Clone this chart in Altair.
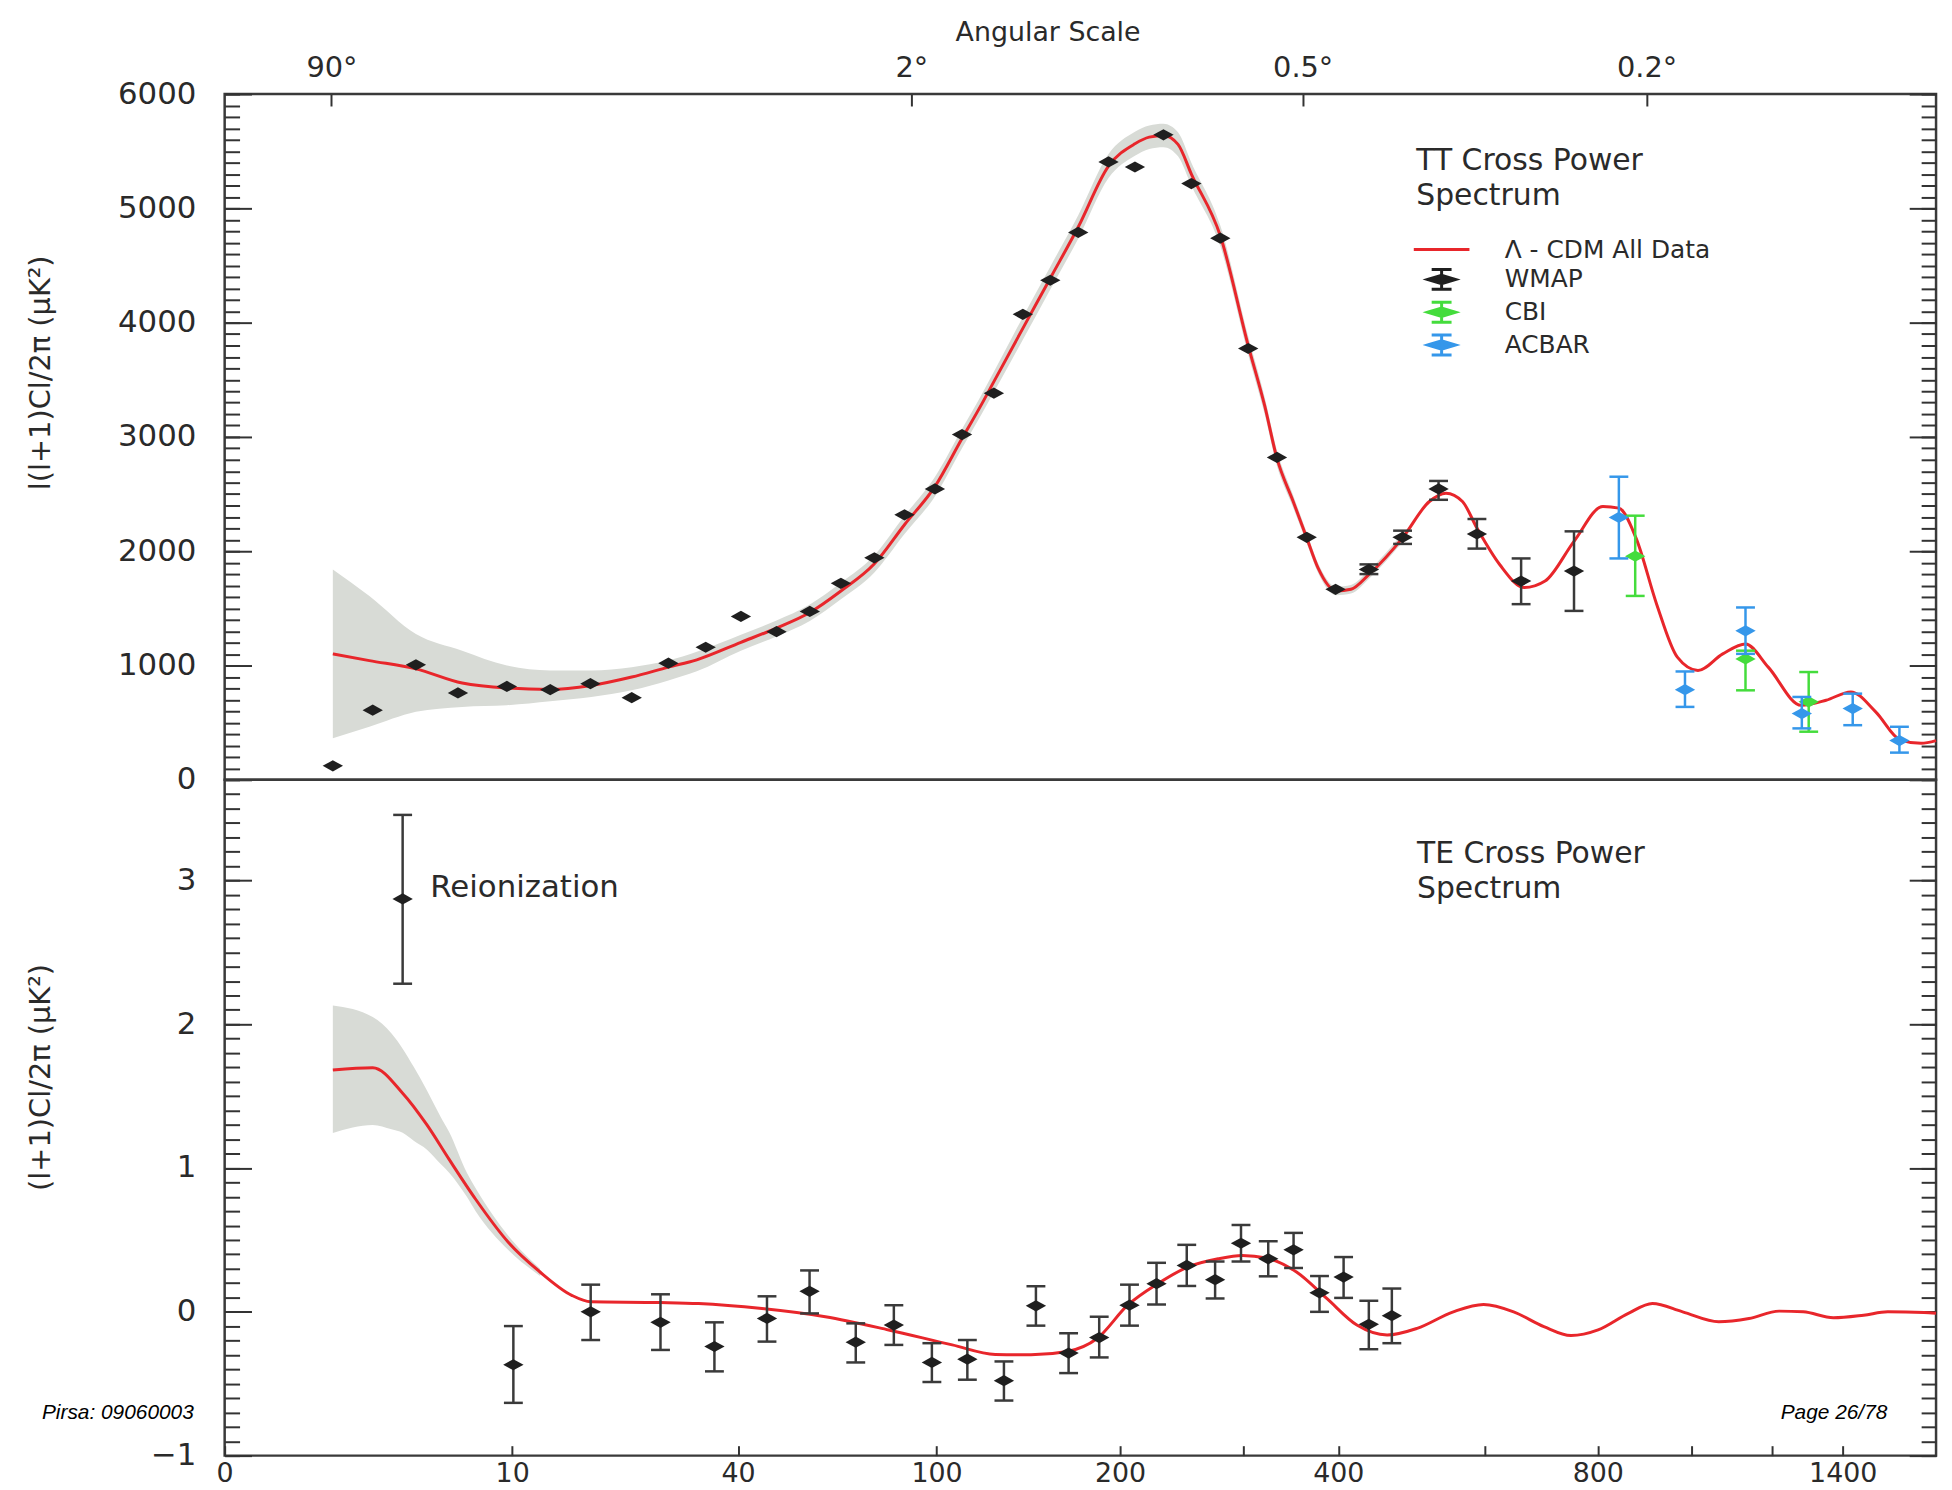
import altair as alt
import pandas as pd

# ---------------- values ----------------
# TT panel: WMAP binned points (multipole l  ->  l(l+1)Cl/2pi  [uK^2])
tt_ell = [2.03, 3.07, 4.60, 6.58, 9.62, 13.1, 17.1, 22.1, 27.4, 33.7, 40.6, 48.6, 57.1,
          66.0, 76.7, 87.4, 99.3, 110.9, 125.8, 140.6, 155.8, 172.5, 192.1, 210.5, 231.8,
          254.2, 279.1, 304.8, 333.1, 364.4, 396.8, 436.9, 480.4, 530.4, 587.9, 659.8, 754.3]
tt_val = [122, 609, 1006, 760, 817, 789, 841, 719, 1021, 1160, 1430, 1296, 1473,
          1719, 1942, 2319, 2545, 3021, 3383, 4073, 4371, 4789, 5406, 5362, 5643,
          5217, 4739, 3774, 2821, 2122, 1667, 1841, 2122, 2545, 2151, 1739, 1826]
# WMAP error bars (visible ones only)
tt_err_ell = [436.9, 480.4, 530.4, 587.9, 659.8, 754.3]
tt_err_lo = [1800, 2064, 2450, 2023, 1537, 1478]
tt_err_hi = [1885, 2180, 2615, 2282, 1937, 2174]
# CBI
cbi_ell = [875.9, 1131.5, 1301.1]
cbi_val = [1957, 1058, 682]
cbi_lo = [1609, 783, 421]
cbi_hi = [2311, 1130, 943]
# ACBAR
acbar_ell = [842.1, 985.2, 1131.5, 1281.8, 1430.0, 1577.0]
acbar_val = [2296, 789, 1304, 580, 623, 343]
acbar_lo = [1937, 638, 1102, 450, 478, 238]
acbar_hi = [2652, 948, 1508, 725, 754, 464]
# Lambda-CDM model curve (TT)
tt_model_ell = [2.03, 2.97, 4.60, 6.81, 9.62, 13.1, 17.2, 22.1, 27.4, 32.1, 40.6, 48.6, 57.1,
                66.0, 76.7, 87.4, 99.3, 110.9, 119.6, 125.8, 140.6, 155.8, 172.5, 192.1, 210.5,
                221.0, 231.8, 243.3, 254.2, 279.1, 304.8, 320.7, 333.1, 349.7, 364.4, 376.7,
                397.8, 414.9, 437.0, 480.4, 517.3, 541.2, 565.7, 587.9, 624.1, 665.4, 701.4,
                754.3, 810.0, 842.1, 877.5, 921.8, 967.8, 1015.4, 1074.7, 1131.5, 1190.5,
                1280.2, 1350.9, 1424.3, 1501.0, 1580.3, 1649.0, 1700.0]
tt_model_val = [1102, 1043, 971, 847, 803, 791, 826, 899, 986, 1050, 1203, 1328, 1464,
                1652, 1890, 2232, 2565, 2986, 3276, 3484, 3950, 4389, 4837, 5370, 5565,
                5623, 5638, 5560, 5300, 4760, 3800, 3276, 2812, 2440, 2117, 1856,
                1652, 1667, 1797, 2117, 2435, 2508, 2435, 2203, 1884, 1682, 1739,
                2087, 2391, 2377, 2117, 1537, 1073, 957, 1102, 1189, 986,
                652, 696, 769, 595, 348, 319, 343]
# grey cosmic-variance band (TT)
tt_band_ell = [2.03, 2.97, 4.60, 6.81, 9.62, 13.1, 17.2, 22.1, 27.4, 32.1, 40.6, 48.6, 57.1,
               66.0, 76.7, 87.4, 99.3, 110.9, 119.6, 125.8, 140.6, 155.8, 172.5, 192.1, 210.5,
               221.0, 231.8, 243.3, 254.2, 279.1, 304.8, 320.7, 333.1, 349.7, 364.4, 376.7,
               397.8, 414.9, 437.0, 480.4]
tt_band_lo = [363, 464, 595, 638, 652, 687, 725, 783, 870, 950, 1130, 1255, 1390,
              1580, 1815, 2150, 2480, 2900, 3190, 3390, 3850, 4290, 4735, 5265, 5460,
              5520, 5535, 5455, 5200, 4670, 3720, 3200, 2745, 2385, 2070, 1815,
              1615, 1630, 1760, 2080]
tt_band_hi = [1841, 1609, 1276, 1130, 1000, 957, 957, 986, 1043, 1120, 1270, 1395, 1535,
              1725, 1965, 2310, 2650, 3070, 3360, 3570, 4050, 4490, 4940, 5475, 5670,
              5725, 5740, 5665, 5400, 4850, 3880, 3350, 2880, 2495, 2165, 1900,
              1690, 1705, 1835, 2155]

# TE panel: WMAP points with error bars
te_ell = [10.09, 17.13, 26.18, 35.32, 46.35, 57.03, 70.6, 83.5, 98.07, 113.3, 130.8, 147.7,
          166.6, 185.9, 206.6, 226.5, 250.4, 274.5, 298.0, 324.3, 350.3, 378.5, 406.2, 436.8, 466.2]
te_val = [-0.368, 0.0, -0.073, -0.241, -0.046, 0.143, -0.211, -0.092, -0.352, -0.329, -0.479, 0.042,
          -0.287, -0.179, 0.046, 0.196, 0.323, 0.224, 0.477, 0.369, 0.431, 0.132, 0.242, -0.087, -0.027]
te_lo = [-0.633, -0.196, -0.265, -0.414, -0.207, -0.011, -0.352, -0.230, -0.488, -0.472, -0.617, -0.096,
         -0.426, -0.317, -0.096, 0.051, 0.180, 0.093, 0.350, 0.247, 0.305, 0.0, 0.097, -0.260, -0.218]
te_hi = [-0.099, 0.189, 0.122, -0.073, 0.108, 0.288, -0.080, 0.046, -0.218, -0.196, -0.345, 0.178,
         -0.149, -0.034, 0.189, 0.341, 0.466, 0.350, 0.604, 0.491, 0.549, 0.249, 0.381, 0.077, 0.162]
# reionization point
reion_ell = [4.08]
reion_val = [2.872]
reion_lo = [2.282]
reion_hi = [3.456]
# model curve (TE)
te_model_ell = [2.03, 3.07, 4.08, 5.07, 6.12, 7.58, 9.72, 12.21, 15.14, 17.13, 26.18, 32.42, 45.19,
                61.42, 81.67, 106.6, 126.5, 145.0, 165.8, 184.7, 205.3, 227.5, 251.4, 277.2, 299.2,
                322.5, 353.4, 386.7, 422.1, 460.0, 500.2, 552.0, 598.3, 647.2, 699.3, 748.7, 800.6,
                861.6, 912.6, 979.8, 1065.1, 1140.5, 1219.6, 1285.9, 1372.3, 1463.3, 1539.3, 1658.5, 1700.0]
te_model_val = [1.682, 1.698, 1.521, 1.30, 1.06, 0.783, 0.484, 0.277, 0.115, 0.07, 0.065, 0.058, 0.023,
                -0.034, -0.126, -0.230, -0.296, -0.299, -0.276, -0.184, 0.046, 0.196, 0.312, 0.369, 0.392,
                0.374, 0.277, 0.093, -0.092, -0.161, -0.115, 0.0, 0.051, 0.0, -0.103, -0.165, -0.126,
                -0.011, 0.058, 0.0, -0.069, -0.046, 0.005, 0.0, -0.041, -0.023, 0.0, -0.004, -0.01]
te_band_ell = [2.03, 3.07, 3.68, 4.08, 4.51, 5.07, 5.69, 6.12, 7.07, 7.58, 9.72, 12.21]
te_band_lo = [1.244, 1.30, 1.27, 1.245, 1.19, 1.128, 1.03, 0.968, 0.80, 0.70, 0.43, 0.25]
te_band_hi = [2.13, 2.05, 1.935, 1.83, 1.704, 1.54, 1.359, 1.25, 0.968, 0.86, 0.53, 0.30]

# labels / annotations (positions in data units: multipole l, panel value)
legend_labels = ["Λ - CDM All Data", "WMAP", "CBI", "ACBAR"]
tt_note = ["TT Cross Power\nSpectrum"]
tt_note_ell = [499]
tt_note_val = [5337]
te_note = ["TE Cross Power\nSpectrum"]
te_note_ell = [500]
te_note_val = [3.12]
reion_note = ["Reionization"]
reion_note_ell = [5.22]
reion_note_val = [2.885]
slide_left = ["Pirsa: 09060003"]
slide_left_ell = [0.0036]
slide_right = ["Page 26/78"]
slide_right_ell = [1538]
slide_note_val = [-0.745]

angular_tick_ell = [2, 90, 360, 900]
ell_ticks = [0.5, 10, 40, 100, 200, 300, 400, 600, 800, 1000, 1200, 1400]
tt_major = list(range(0, 6001, 1000))
tt_minor = list(range(0, 6001, 100))
te_major = [-1, 0, 1, 2, 3]
te_minor = [round(-1 + 0.1 * i, 1) for i in range(47)]

# ---------------- styling ----------------
FONT = "DejaVu Sans"
RED = "#e8262b"
BAND = "#d8dbd6"
INK = "#1f1f1f"
ERR = "#3a3a3a"
GREEN = "#44dc3c"
BLUE = "#3597ea"
TXT = "#2a2a2a"
TICK = "#333333"
DIAMOND = "M-1,0L0,-0.55L1,0L0,0.55Z"
LEG_LINE = "M-2.8,0L2.8,0"
LEG_ERR = "M-1,-1L1,-1M0,-1L0,1M-1,1L1,1M-1.4,0L0,-0.42L1.4,0L0,0.42Z"

W = 1722
H_TT = 690
H_TE = 680

xs = alt.Scale(type="pow", exponent=0.25, domain=[0.5, 1700], nice=False, zero=False)
ys_tt = alt.Scale(domain=[0, 6000], nice=False, zero=False)
ys_te = alt.Scale(domain=[-1, 3.7], nice=False, zero=False)


def tick_axis(orient, values, size):
    return alt.Axis(orient=orient, values=values, tickSize=size, offset=-size, domain=False,
                    grid=False, labels=False, ticks=True, tickColor=TICK, tickWidth=2, title=None)


def label_axis(values, title, title_y, min_extent):
    return alt.Axis(orient="left", values=values, format="d", tickSize=27, offset=-27, domain=False,
                    grid=False, labels=True, labelPadding=29, labelFontSize=31, labelColor=TXT,
                    labelFlush=False, labelOverlap=False, tickColor=TICK, tickWidth=2,
                    title=title, titleFontSize=29, titleFontWeight="normal", titleColor=TXT,
                    titleX=-212, titleY=title_y, titleBaseline="middle", titleAngle=-90,
                    minExtent=min_extent)


top_axis = alt.Axis(orient="top", values=angular_tick_ell, labelExpr="(180/datum.value) + '°'",
                    tickSize=12, offset=-12, labelPadding=12, domain=False, grid=False,
                    labelFontSize=29, labelColor=TXT, labelFlush=False, labelOverlap=False,
                    tickColor=TICK, tickWidth=2, title="Angular Scale", titleFontSize=27,
                    titleFontWeight="normal", titleColor=TXT, titleX=828, titleY=-74,
                    titleBaseline="middle")

bottom_axis = alt.Axis(orient="bottom", values=ell_ticks,
                       labelExpr="datum.value < 1 ? '0' : (datum.value == 300 || datum.value == 600 || "
                                 "datum.value == 1000 || datum.value == 1200) ? '' : format(datum.value, 'd')",
                       tickSize=10, offset=-10, labelPadding=5, domain=False, grid=False,
                       labelFontSize=27, labelColor=TXT, labelFlush=False, labelOverlap=False,
                       tickColor=TICK, tickWidth=2, title=None)


def X(field="ell", axis=None):
    return alt.X(f"{field}:Q", scale=xs, axis=axis)


# ---------------- TT panel ----------------
tt_band_df = pd.DataFrame({"ell": tt_band_ell, "lo": tt_band_lo, "hi": tt_band_hi})
tt_model_df = pd.DataFrame({"ell": tt_model_ell, "val": tt_model_val})
tt_df = pd.DataFrame({"ell": tt_ell, "val": tt_val})
tt_err_df = pd.DataFrame({"ell": tt_err_ell, "lo": tt_err_lo, "hi": tt_err_hi})
cbi_df = pd.DataFrame({"ell": cbi_ell, "val": cbi_val, "lo": cbi_lo, "hi": cbi_hi})
acbar_df = pd.DataFrame({"ell": acbar_ell, "val": acbar_val, "lo": acbar_lo, "hi": acbar_hi})


def errbars(df, yscale, color, axis_rule=None, axis_cap=None):
    rule = alt.Chart(df).mark_rule(color=color, strokeWidth=2.5, opacity=1).encode(
        x=X(), y=alt.Y("lo:Q", scale=yscale, axis=axis_rule), y2="hi:Q")
    caps = alt.Chart(df).transform_fold(["lo", "hi"], as_=["end", "v"]).mark_tick(
        color=color, orient="horizontal", size=19, thickness=2.5, opacity=1).encode(
        x=X(), y=alt.Y("v:Q", scale=yscale, axis=axis_cap))
    return rule, caps


def diamonds(df, yscale, color):
    return alt.Chart(df).mark_point(shape=DIAMOND, size=420, filled=True, color=color,
                                    opacity=1, strokeWidth=0).encode(
        x=X(), y=alt.Y("val:Q", scale=yscale, axis=None))


def note(texts, ells, vals, yscale, size, align="left", font=FONT, style="normal", color=TXT,
         line_height=35):
    df = pd.DataFrame({"t": texts, "ell": ells, "val": vals})
    return alt.Chart(df).mark_text(align=align, baseline="alphabetic", lineBreak="\n",
                                   lineHeight=line_height, fontSize=size, font=font,
                                   fontStyle=style, color=color).encode(
        x=X(), y=alt.Y("val:Q", scale=yscale, axis=None), text="t:N")


tt_band = alt.Chart(tt_band_df).mark_area(color=BAND, interpolate="monotone").encode(
    x=X(axis=top_axis),
    y=alt.Y("lo:Q", scale=ys_tt, axis=label_axis(tt_major, "l(l+1)Cl/2π (μK²)", 280, 140)),
    y2="hi:Q")
tt_curve = alt.Chart(tt_model_df).mark_line(color=RED, strokeWidth=3, interpolate="monotone").encode(
    x=X(), y=alt.Y("val:Q", scale=ys_tt, axis=tick_axis("left", tt_minor, 15)))
tt_rule, tt_caps = errbars(tt_err_df, ys_tt, ERR, tick_axis("right", tt_major, 27),
                           tick_axis("right", tt_minor, 15))
cbi_rule, cbi_caps = errbars(cbi_df, ys_tt, GREEN)
acbar_rule, acbar_caps = errbars(acbar_df, ys_tt, BLUE)

legend = alt.Legend(orient="none", legendX=1212, legendY=144, title=None, padding=0,
                    symbolSize=400, symbolStrokeWidth=3, labelOffset=51, labelFont=FONT,
                    labelFontSize=25, labelColor=TXT, rowPadding=0, labelLimit=500)
legend_df = pd.DataFrame({"series": legend_labels})
legend_layer = alt.Chart(legend_df).transform_filter("false").mark_point(
    filled=True, opacity=1, strokeWidth=3).encode(
    fill=alt.Fill("series:N", legend=legend,
                  scale=alt.Scale(domain=legend_labels, range=["transparent", INK, GREEN, BLUE])),
    stroke=alt.Stroke("series:N", legend=legend,
                      scale=alt.Scale(domain=legend_labels, range=[RED, INK, GREEN, BLUE])),
    shape=alt.Shape("series:N", legend=legend,
                    scale=alt.Scale(domain=legend_labels, range=[LEG_LINE, LEG_ERR, LEG_ERR, LEG_ERR])),
)

tt_chart = alt.layer(
    tt_band, tt_curve, tt_rule, tt_caps, diamonds(tt_df, ys_tt, INK),
    cbi_rule, cbi_caps, diamonds(cbi_df, ys_tt, GREEN),
    acbar_rule, acbar_caps, diamonds(acbar_df, ys_tt, BLUE),
    note(tt_note, tt_note_ell, tt_note_val, ys_tt, 30),
    legend_layer,
).resolve_axis(x="independent", y="independent").properties(width=W, height=H_TT)

# ---------------- TE panel ----------------
te_band_df = pd.DataFrame({"ell": te_band_ell, "lo": te_band_lo, "hi": te_band_hi})
te_model_df = pd.DataFrame({"ell": te_model_ell, "val": te_model_val})
te_df = pd.DataFrame({"ell": te_ell, "val": te_val, "lo": te_lo, "hi": te_hi})
reion_df = pd.DataFrame({"ell": reion_ell, "val": reion_val, "lo": reion_lo, "hi": reion_hi})

te_band = alt.Chart(te_band_df).mark_area(color=BAND, interpolate="monotone").encode(
    x=X(axis=bottom_axis),
    y=alt.Y("lo:Q", scale=ys_te, axis=label_axis(te_major, "(l+1)Cl/2π (μK²)", 299, 140)),
    y2="hi:Q")
te_curve = alt.Chart(te_model_df).mark_line(color=RED, strokeWidth=3, interpolate="monotone").encode(
    x=X(), y=alt.Y("val:Q", scale=ys_te, axis=tick_axis("left", te_minor, 15)))
te_rule, te_caps = errbars(te_df, ys_te, ERR, tick_axis("right", te_major, 27),
                           tick_axis("right", te_minor, 15))
re_rule, re_caps = errbars(reion_df, ys_te, ERR)

te_chart = alt.layer(
    te_band, te_curve, te_rule, te_caps, diamonds(te_df, ys_te, INK),
    re_rule, re_caps, diamonds(reion_df, ys_te, INK),
    note(te_note, te_note_ell, te_note_val, ys_te, 30),
    note(reion_note, reion_note_ell, reion_note_val, ys_te, 31),
    note(slide_left, slide_left_ell, slide_note_val, ys_te, 21, "left",
         "Liberation Sans", "italic", "#000000"),
    note(slide_right, slide_right_ell, slide_note_val, ys_te, 21, "right",
         "Liberation Sans", "italic", "#000000"),
).resolve_axis(x="independent", y="independent").properties(width=W, height=H_TE)

chart = alt.vconcat(tt_chart, te_chart, spacing=0, bounds="flush").properties(
    padding={"left": 17, "top": 4, "right": 0, "bottom": 0}, background="white"
).configure(font=FONT).configure_view(stroke="#3a3a3a", strokeWidth=2.5).configure_axis(
    labelFont=FONT, titleFont=FONT)

chart.save("out.html", embed_options={"renderer": "svg", "actions": False})
